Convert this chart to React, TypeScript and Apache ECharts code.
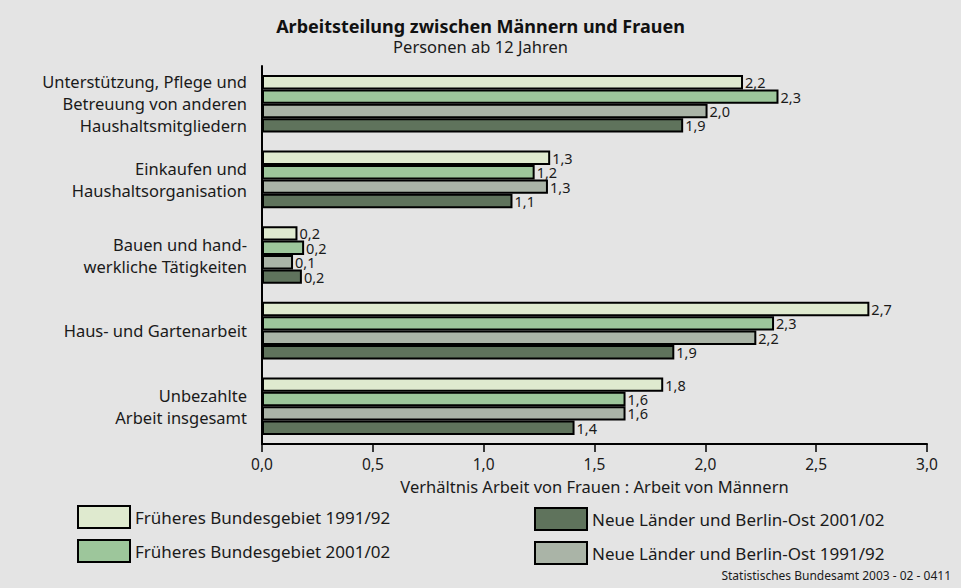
import React, { useEffect, useRef } from "react";
import * as echarts from "echarts";

const categories = [
  "Unterstützung, Pflege und\nBetreuung von anderen\nHaushaltsmitgliedern",
  "Einkaufen und\nHaushaltsorganisation",
  "Bauen und hand-\nwerkliche Tätigkeiten",
  "Haus- und Gartenarbeit",
  "Unbezahlte\nArbeit insgesamt",
];

const seriesNames = [
  "Früheres Bundesgebiet 1991/92",
  "Früheres Bundesgebiet 2001/02",
  "Neue Länder und Berlin-Ost 1991/92",
  "Neue Länder und Berlin-Ost 2001/02",
];

const fb1991 = [2.17, 1.3, 0.16, 2.74, 1.81];
const fb2001 = [2.33, 1.23, 0.19, 2.31, 1.64];
const nl1991 = [2.01, 1.29, 0.14, 2.23, 1.64];
const nl2001 = [1.9, 1.13, 0.18, 1.86, 1.41];

const seriesValues = [fb1991, fb2001, nl1991, nl2001];
const colors = ["#dfeacf", "#9dc69b", "#aab4a7", "#5f735c"];

const xTicks = { min: 0, max: 3, interval: 0.5 };

const FONT = "Noto Sans";
const fmt = (v: number) => v.toFixed(1).replace(".", ",");

export default function App() {
  const ref = useRef<HTMLDivElement>(null);
  useEffect(() => {
    if (!ref.current) return;
    const chart = echarts.init(ref.current, null, { renderer: "svg" });
    chart.setOption({
      animation: false,
      backgroundColor: "#e4e4e4",
      textStyle: { fontFamily: FONT, color: "#1a1a1a" },
      title: {
        text: "Arbeitsteilung zwischen Männern und Frauen",
        subtext: "Personen ab 12 Jahren",
        left: "center",
        top: 17,
        padding: 0,
        itemGap: 3,
        textStyle: { fontFamily: FONT, fontSize: 18, fontWeight: "bold", color: "#111" },
        subtextStyle: { fontFamily: FONT, fontSize: 16.5, color: "#1a1a1a" },
      },
      grid: { left: 262, right: 34, top: 66, bottom: 144, containLabel: false },
      xAxis: {
        type: "value",
        min: xTicks.min,
        max: xTicks.max,
        interval: xTicks.interval,
        name: "Verhältnis Arbeit von Frauen : Arbeit von Männern",
        nameLocation: "middle",
        nameGap: 34,
        nameTextStyle: { fontFamily: FONT, fontSize: 16.5, color: "#1a1a1a" },
        axisLine: { show: true, lineStyle: { color: "#000", width: 2 } },
        axisTick: { show: true, length: 8, lineStyle: { color: "#000", width: 1.5 } },
        axisLabel: { formatter: (v: number) => fmt(v), fontSize: 15.5, margin: 12, color: "#1a1a1a", fontFamily: FONT },
        splitLine: { show: false },
      },
      yAxis: {
        type: "category",
        inverse: true,
        data: categories,
        axisLine: { show: true, lineStyle: { color: "#000", width: 2 } },
        axisTick: { show: false },
        axisLabel: { fontSize: 16.5, lineHeight: 22, margin: 15, align: "right", color: "#1a1a1a", fontFamily: FONT },
      },
      legend: [
        {
          data: [seriesNames[0], seriesNames[1]],
          orient: "vertical",
          left: 77,
          top: 505,
          padding: 0,
          itemWidth: 52,
          itemHeight: 22,
          itemGap: 10,
          icon: "rect",
          itemStyle: { borderColor: "#000", borderWidth: 2 },
          textStyle: { fontSize: 17, color: "#1a1a1a", fontFamily: FONT },
        },
        {
          data: [seriesNames[3], seriesNames[2]],
          orient: "vertical",
          left: 534,
          top: 507,
          padding: 0,
          itemWidth: 52,
          itemHeight: 22,
          itemGap: 10,
          icon: "rect",
          itemStyle: { borderColor: "#000", borderWidth: 2 },
          textStyle: { fontSize: 17, color: "#1a1a1a", fontFamily: FONT },
        },
      ],
      graphic: [
        {
          type: "text",
          right: 10,
          top: 569,
          style: { text: "Statistisches Bundesamt 2003 - 02 - 0411", fontSize: 12, fill: "#1a1a1a", fontFamily: FONT },
        },
      ],
      series: seriesNames.map((name, i) => ({
        name,
        type: "bar",
        data: seriesValues[i],
        barWidth: 14.4,
        barGap: "0%",
        itemStyle: { color: colors[i], borderColor: "#000", borderWidth: 2 },
        label: {
          show: true,
          position: "right",
          distance: 2,
          formatter: (p: any) => fmt(p.value),
          fontSize: 14.5,
          lineHeight: 14,
          color: "#1a1a1a",
          fontFamily: FONT,
        },
      })),
    });
    return () => chart.dispose();
  }, []);
  return <div ref={ref} style={{ position: "fixed", left: 0, top: 0, width: 961, height: 588 }} />;
}
